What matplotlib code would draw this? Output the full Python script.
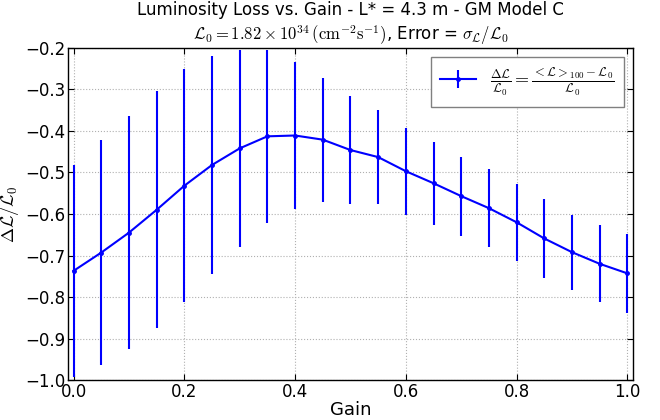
import matplotlib
matplotlib.use("Agg")
import matplotlib.pyplot as plt
import numpy as np

gain = [0.0, 0.05, 0.10, 0.15, 0.20, 0.25, 0.30, 0.35, 0.40, 0.45, 0.50,
        0.55, 0.60, 0.65, 0.70, 0.75, 0.80, 0.85, 0.90, 0.95, 1.0]
loss = [-0.737, -0.693, -0.645, -0.590, -0.532, -0.482, -0.442, -0.413, -0.411, -0.421, -0.446,
        -0.463, -0.497, -0.526, -0.557, -0.586, -0.620, -0.659, -0.692, -0.720, -0.743]
err = [0.256, 0.270, 0.280, 0.285, 0.280, 0.262, 0.238, 0.208, 0.176, 0.149, 0.130,
       0.114, 0.105, 0.100, 0.095, 0.094, 0.092, 0.094, 0.090, 0.093, 0.095]

plt.rcParams['mathtext.fontset'] = 'cm'
plt.rcParams['font.family'] = ['DejaVu Sans']

fig = plt.figure(figsize=(6.6, 4.2), dpi=100)
ax = fig.add_axes([0.103, 0.095, 0.856, 0.791])

ax.errorbar(gain, loss, yerr=err, color='b', marker='.', markersize=5, lw=1.5,
            elinewidth=1.5, capsize=0,
            label=r'$\frac{\Delta\mathcal{L}}{\mathcal{L}_0}=\frac{<\mathcal{L}>_{100}-\mathcal{L}_0}{\mathcal{L}_0}$')

ax.set_xlim(-0.01, 1.01)
ax.set_ylim(-1.0, -0.2)
ax.set_xticks(np.arange(0, 1.01, 0.2))
ax.set_yticks(np.arange(-1.0, -0.19, 0.1))
ax.grid(True, color='#b0b0b0', linestyle=':', linewidth=0.8)
ax.tick_params(direction='in', top=True, right=True, labelsize=12, length=4, pad=2)
for s in ax.spines.values():
    s.set_linewidth(1.0)

ax.set_xlabel('Gain', fontsize=13, labelpad=0)
ax.set_ylabel(r'$\Delta\mathcal{L}/\mathcal{L}_0$', fontsize=13, labelpad=3)
ax.set_title('Luminosity Loss vs. Gain - L* = 4.3 m - GM Model C\n'
             r'$\mathcal{L}_0=1.82\times10^{34}\,(\mathrm{cm}^{-2}\mathrm{s}^{-1})$, Error = $\sigma_\mathcal{L}/\mathcal{L}_0$',
             fontsize=12)

leg = ax.legend(loc='upper right', fontsize=13, fancybox=False, framealpha=1,
                edgecolor='gray', handlelength=2.0, borderpad=0.5)
leg.get_frame().set_linewidth(1.0)

fig.savefig('out.png', dpi=100, facecolor='white')
